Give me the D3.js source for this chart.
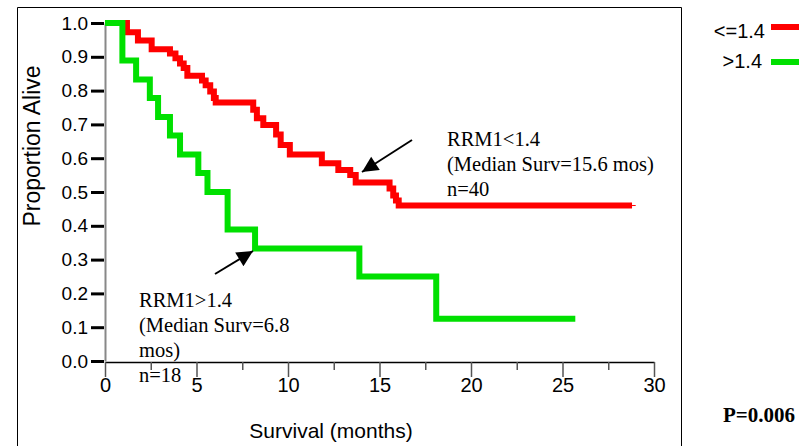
<!DOCTYPE html>
<html>
<head>
<meta charset="utf-8">
<script src="https://cdn.jsdelivr.net/npm/d3@7"></script>
<style>
  html, body { margin: 0; padding: 0; background: #fff; }
  svg { display: block; }
</style>
</head>
<body>
<svg id="chart" width="803" height="446"></svg>
<script>
// ---- Data ----
const lowTimes  = [0, 1.2, 1.8, 2.55, 3.55, 3.85, 4.1, 4.3, 4.5, 5.3, 5.5, 5.75, 5.95, 6.05, 8.1, 8.3, 8.65, 9.35, 9.6, 10.1, 11.85, 12.75, 13.4, 13.7, 15.55, 15.75, 15.9, 16.05, 28.8];
const lowSurv   = [1.0, 0.973, 0.948, 0.922, 0.91, 0.896, 0.88, 0.867, 0.844, 0.83, 0.816, 0.797, 0.778, 0.765, 0.743, 0.718, 0.698, 0.67, 0.639, 0.611, 0.585, 0.565, 0.55, 0.528, 0.51, 0.49, 0.475, 0.46, 0.46];
const highTimes = [0, 0.95, 1.7, 2.45, 2.9, 3.55, 4.1, 5.1, 5.6, 6.7, 8.2, 13.9, 18.1, 25.7];
const highSurv  = [1.0, 0.889, 0.833, 0.778, 0.722, 0.667, 0.611, 0.556, 0.5, 0.389, 0.333, 0.25, 0.125, 0.125];
const seriesNames = ["<=1.4", ">1.4"];
const xTickValues = [0, 5, 10, 15, 20, 25, 30];
const xMinorTicks = [2.5, 7.5, 12.5, 17.5, 22.5, 27.5];
const yTickValues = [0, 0.1, 0.2, 0.3, 0.4, 0.5, 0.6, 0.7, 0.8, 0.9, 1.0];
const lowNote  = ["RRM1<1.4", "(Median Surv=15.6 mos)", "n=40"];
const highNote = ["RRM1>1.4", "(Median Surv=6.8", "mos)", "n=18"];
const pValue = "P=0.006";

// ---- Layout ----
const svg = d3.select("#chart");
const x = d3.scaleLinear().domain([0, 30]).range([105, 654]);
const y = d3.scaleLinear().domain([0, 1]).range([361, 23]);
const RED = "#ff0000", GREEN = "#00e000";

// frame
svg.append("path").attr("d", "M17.5,446 V7.5 H681.5 V446")
  .attr("fill", "none").attr("stroke", "#000").attr("stroke-width", 1);

// curves
const line = d3.line().x(d => x(d[0])).y(d => y(d[1])).curve(d3.curveStepAfter);
const lowPts = lowTimes.map((t, i) => [t, lowSurv[i]]);
const highPts = highTimes.map((t, i) => [t, highSurv[i]]);

// x axis
const xAxis = svg.append("g").attr("transform", "translate(0,362)")
  .call(d3.axisBottom(x).tickValues(xTickValues).tickSize(15).tickSizeOuter(0).tickFormat(d3.format("d")));
xAxis.select(".domain").attr("stroke", "#000").attr("stroke-width", 1.5);
xAxis.selectAll(".tick line").attr("stroke", "#555").attr("stroke-width", 1.5);
xAxis.selectAll(".tick text").attr("font-family", "Liberation Sans, Arial, sans-serif")
  .attr("font-size", 20).attr("fill", "#000").attr("y", 16);
const xMinor = svg.append("g").attr("transform", "translate(0,362)")
  .call(d3.axisBottom(x).tickValues(xMinorTicks).tickSize(8).tickFormat(""));
xMinor.select(".domain").remove();
xMinor.selectAll(".tick line").attr("stroke", "#555").attr("stroke-width", 1.5);

// y axis
const yAxis = svg.append("g").attr("transform", "translate(105,0)")
  .call(d3.axisLeft(y).tickValues(yTickValues).tickSize(14).tickSizeOuter(0).tickFormat(d3.format(".1f")));
yAxis.select(".domain").attr("stroke", "#888").attr("stroke-width", 2);
yAxis.selectAll(".tick line").attr("stroke", "#000").attr("stroke-width", 3).attr("x2", -14).attr("x1", -1);
yAxis.selectAll(".tick text").attr("font-family", "Liberation Sans, Arial, sans-serif")
  .attr("font-size", 19).attr("fill", "#000").attr("x", -17);

svg.append("path").attr("d", line(lowPts)).attr("fill", "none").attr("stroke", RED).attr("stroke-width", 6);
svg.append("path").attr("d", line(highPts)).attr("fill", "none").attr("stroke", GREEN).attr("stroke-width", 6);
// censor tail of red curve
svg.append("line").attr("x1", x(28.8)).attr("x2", x(29.0)).attr("y1", y(0.46)).attr("y2", y(0.46))
  .attr("stroke", RED).attr("stroke-width", 1);

// axis titles
svg.append("text").attr("x", 331).attr("y", 438).attr("text-anchor", "middle")
  .attr("font-family", "Liberation Sans, Arial, sans-serif").attr("font-size", 21).text("Survival (months)");
svg.append("text").attr("transform", "translate(40,146) rotate(-90)").attr("text-anchor", "middle")
  .attr("font-family", "Liberation Sans, Arial, sans-serif").attr("font-size", 23).text("Proportion Alive");

// legend
const legY = [38, 68], barY = [27, 62], colors = [RED, GREEN], legX = [765, 762];
seriesNames.forEach((n, i) => {
  svg.append("text").attr("x", legX[i]).attr("y", legY[i]).attr("text-anchor", "end")
    .attr("font-family", "Liberation Sans, Arial, sans-serif").attr("font-size", 20).text(n);
  svg.append("line").attr("x1", 771).attr("x2", 799).attr("y1", barY[i]).attr("y2", barY[i])
    .attr("stroke", colors[i]).attr("stroke-width", 6);
});

// annotations
const serif = "Liberation Serif, Times New Roman, serif";
lowNote.forEach((s, i) => {
  svg.append("text").attr("x", 447).attr("y", 146 + i * 25).attr("font-family", serif)
    .attr("font-size", 20.5).text(s);
});
highNote.forEach((s, i) => {
  svg.append("text").attr("x", 139).attr("y", 307 + i * 25).attr("font-family", serif)
    .attr("font-size", 20.5).text(s);
});
svg.append("text").attr("x", 795).attr("y", 422).attr("text-anchor", "end").attr("font-family", serif)
  .attr("font-weight", "bold").attr("font-size", 21).text(pValue);

// arrows
svg.append("defs").append("marker").attr("id", "ah").attr("viewBox", "0 0 10 10")
  .attr("refX", 10).attr("refY", 5)
  .attr("markerUnits", "userSpaceOnUse").attr("orient", "auto")
  .attr("markerWidth", 22).attr("markerHeight", 16)
  .append("path").attr("d", "M0,0 L10,5 L0,10 Z").attr("fill", "#000");
svg.append("line").attr("x1", 412).attr("y1", 140).attr("x2", 362).attr("y2", 172)
  .attr("stroke", "#000").attr("stroke-width", 2).attr("marker-end", "url(#ah)");
svg.append("line").attr("x1", 215).attr("y1", 274).attr("x2", 253).attr("y2", 251)
  .attr("stroke", "#000").attr("stroke-width", 2).attr("marker-end", "url(#ah)");
</script>
</body>
</html>
